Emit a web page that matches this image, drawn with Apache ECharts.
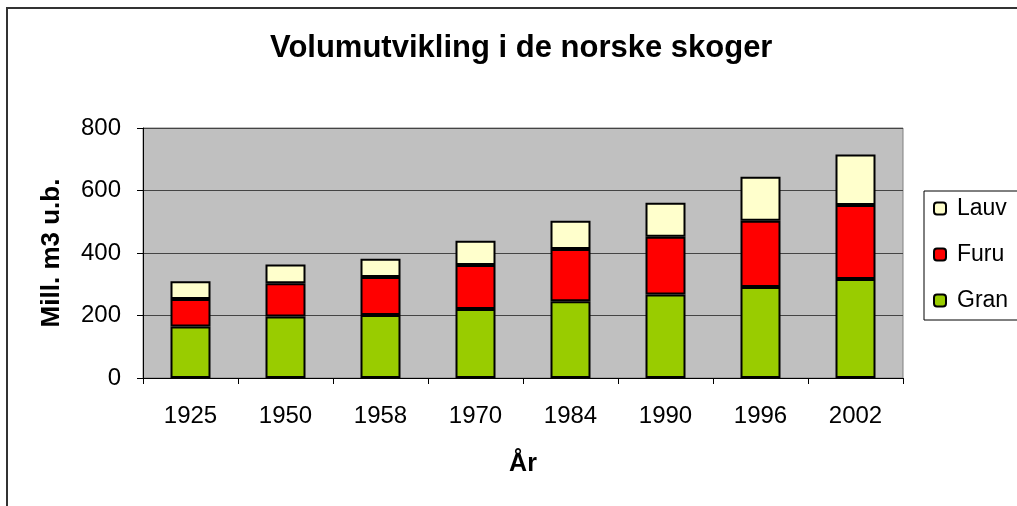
<!DOCTYPE html>
<html>
<head>
<meta charset="utf-8">
<script src="https://cdn.jsdelivr.net/npm/echarts@6/dist/echarts.min.js"></script>
<style>
  html, body { margin: 0; padding: 0; background: #fff; }
  #chart { width: 1017px; height: 506px; }
</style>
</head>
<body>
<div id="chart"></div>
<script>
// data
const years = ['1925', '1950', '1958', '1970', '1984', '1990', '1996', '2002']
const gran = [165, 197, 202, 221, 246, 267, 291, 317]
const furu = [88, 106, 121, 141, 167, 185, 212, 237]
const lauv = [57, 60, 59, 77, 90, 109, 141, 161]
const yTicks = [0, 200, 400, 600, 800]

const font = 'Liberation Sans, Arial, sans-serif'

let myChart = echarts.init(document.getElementById('chart'))

let option = {
    animation: false,
    textStyle: { fontFamily: font },
    title: {
        text: 'Volumutvikling i de norske skoger',
        left: 265,
        top: 28,
        textStyle: { fontSize: 31, fontWeight: 'bold', color: '#000', fontFamily: font }
    },
    graphic: [
        { // outer frame
            type: 'rect',
            shape: { x: 7, y: 8, width: 1030, height: 520 },
            style: { fill: 'none', stroke: '#333', lineWidth: 2 },
            silent: true
        }
    ],
    legend: {
        data: ['Lauv', 'Furu', 'Gran'],
        orient: 'vertical',
        left: 924,
        top: 191,
        itemWidth: 12,
        itemHeight: 12,
        itemGap: 23,
        padding: [6, 30, 8, 9],
        borderColor: '#000',
        borderWidth: 1,
        textStyle: { fontSize: 23, color: '#000', fontFamily: font, padding: [0, 0, 0, 6] }
    },
    grid: {
        left: 143,
        right: 114,
        top: 128,
        bottom: 128,
        show: true,
        backgroundColor: '#C0C0C0',
        borderColor: '#808080',
        borderWidth: 1
    },
    xAxis: {
        type: 'category',
        data: years,
        name: 'År',
        nameLocation: 'middle',
        nameGap: 74,
        nameTextStyle: { fontSize: 25, fontWeight: 'bold', color: '#000' },
        axisLine: { lineStyle: { color: '#000', width: 1 } },
        axisTick: { show: true, length: 6, lineStyle: { color: '#000' } },
        axisLabel: { fontSize: 24, color: '#000', margin: 26 }
    },
    yAxis: {
        type: 'value',
        min: 0,
        max: 800,
        interval: 200,
        name: 'Mill. m3 u.b.',
        nameLocation: 'middle',
        nameGap: 78,
        nameTextStyle: { fontSize: 26, fontWeight: 'bold', color: '#000' },
        axisLine: { show: true, lineStyle: { color: '#000', width: 1 } },
        axisTick: { show: true, length: 6, lineStyle: { color: '#000' } },
        axisLabel: {
            fontSize: 24, color: '#000', margin: 22,
            formatter: v => yTicks.includes(v) ? String(v) : ''
        },
        splitLine: { lineStyle: { color: '#444', width: 1 } }
    },
    series: [
        {
            name: 'Gran', type: 'bar', stack: 'vol', barWidth: 40, data: gran,
            itemStyle: { color: '#99CC00', borderColor: '#000', borderWidth: 2 }
        },
        {
            name: 'Furu', type: 'bar', stack: 'vol', barWidth: 40, data: furu,
            itemStyle: { color: '#FF0000', borderColor: '#000', borderWidth: 2 }
        },
        {
            name: 'Lauv', type: 'bar', stack: 'vol', barWidth: 40, data: lauv,
            itemStyle: { color: '#FFFFCC', borderColor: '#000', borderWidth: 2 }
        }
    ]
}

myChart.setOption(option)
</script>
</body>
</html>
